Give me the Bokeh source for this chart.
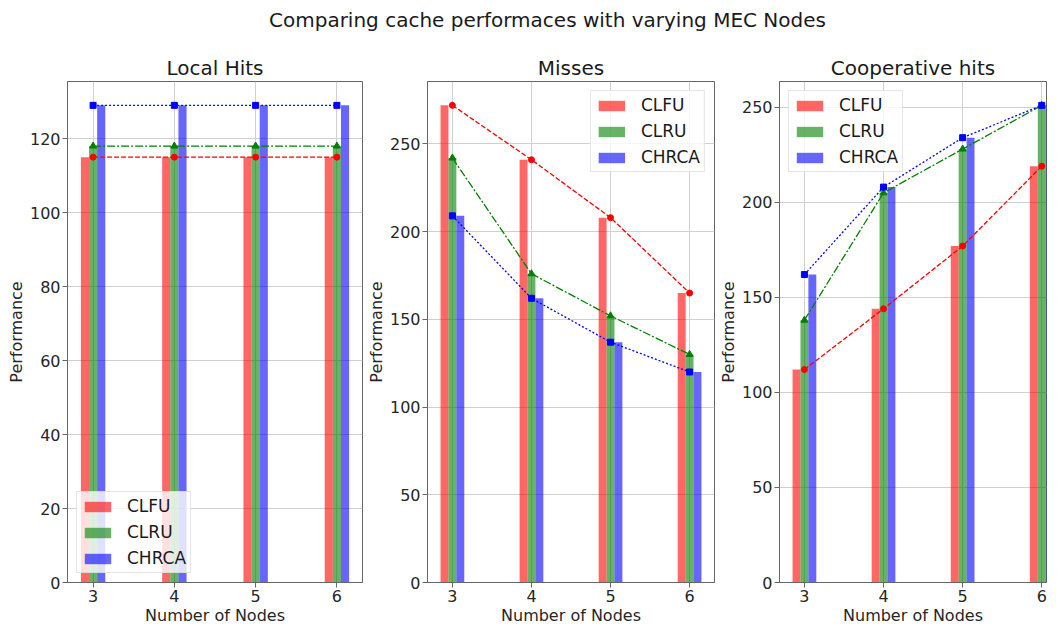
from bokeh.plotting import figure
from bokeh.models import ColumnDataSource, Range1d, SingleIntervalTicker, FixedTicker, Legend, LegendItem, Div
from bokeh.layouts import row, column
from bokeh.transform import dodge
from bokeh.embed import file_html
from bokeh.resources import INLINE

nodes = [3, 4, 5, 6]
series_names = ["CLFU", "CLRU", "CHRCA"]

local_clfu = [115, 115, 115, 115]
local_clru = [118, 118, 118, 118]
local_chrca = [129, 129, 129, 129]

miss_clfu = [272, 241, 208, 165]
miss_clru = [242, 176, 152, 130]
miss_chrca = [209, 162, 137, 120]

coop_clfu = [112, 144, 177, 219]
coop_clru = [138, 205, 228, 251]
coop_chrca = [162, 208, 234, 251]

suptitle = "Comparing cache performaces with varying MEC Nodes"
panel_titles = ["Local Hits", "Misses", "Cooperative hits"]
x_label = "Number of Nodes"
y_label = "Performance"

FONT = "DejaVu Sans"
colors = ["red", "green", "blue"]
offsets = [-0.1, 0.0, 0.1]
dashes = ["5 2", "8 2 2 2", "2 2"]
markers = ["circle", "triangle", "square"]
msizes = [6, 7, 6]

FIG_H = 587
TOP = 41


def make_panel(title, vals, width, left, right, x_end, y_interval, legend_loc):
    src = ColumnDataSource(dict(x=nodes, a=vals[0], b=vals[1], c=vals[2]))
    keys = ["a", "b", "c"]
    ymax = 1.05 * max(max(v) for v in vals)
    p = figure(width=width, height=FIG_H, output_backend="svg", toolbar_location=None,
               x_range=Range1d(2.685, x_end), y_range=Range1d(0, ymax),
               min_border_left=left, min_border_right=right, min_border_top=TOP,
               min_border_bottom=10)
    p.title.text = title
    p.title.text_font = FONT
    p.title.text_font_size = "20px"
    p.title.text_font_style = "normal"
    p.title.align = "center"
    p.title.text_color = "#1a1a1a"
    p.title.standoff = 3

    bar_items = []
    for k, col, off, name in zip(keys, colors, offsets, series_names):
        r = p.vbar(x=dodge("x", off), top=k, width=0.1, bottom=0, source=src,
                   fill_color=col, fill_alpha=0.6, line_color=None)
        bar_items.append(LegendItem(label=name, renderers=[r]))
    for k, col, dsh, mk, ms in zip(keys, colors, dashes, markers, msizes):
        p.line(x="x", y=k, source=src, line_color=col, line_width=1.3, line_dash=dsh)
        p.scatter(x="x", y=k, source=src, marker=mk, size=ms, fill_color=col,
                  line_color=col)

    leg = Legend(items=bar_items, location=legend_loc, margin=9, padding=4,
                 spacing=6, glyph_width=33, glyph_height=13, label_height=18,
                 label_standoff=13, label_text_font=FONT, label_text_font_size="17px",
                 label_text_color="#1a1a1a", border_line_color="#cccccc",
                 background_fill_alpha=0.8)
    p.add_layout(leg, "center")

    p.xaxis.ticker = FixedTicker(ticks=nodes)
    p.yaxis.ticker = SingleIntervalTicker(interval=y_interval, num_minor_ticks=0)
    for ax in [p.xaxis[0], p.yaxis[0]]:
        ax.major_label_text_font = FONT
        ax.major_label_text_font_size = "16px"
        ax.major_label_text_color = "#262626"
        ax.axis_label_text_font = FONT
        ax.axis_label_text_font_size = "16px"
        ax.axis_label_text_font_style = "normal"
        ax.axis_label_text_color = "#262626"
        ax.axis_line_color = "#666666"
        ax.major_tick_line_color = "#666666"
        ax.major_tick_out = 5
        ax.major_tick_in = 0
        ax.minor_tick_line_color = None
        ax.major_label_standoff = 2
        ax.axis_label_standoff = 1
    p.xaxis.axis_label = x_label
    p.yaxis.axis_label = y_label
    p.outline_line_color = "#666666"
    p.outline_line_alpha = 1
    p.xgrid.grid_line_color = "#d0d0d0"
    p.ygrid.grid_line_color = "#d0d0d0"
    return p


p1 = make_panel(panel_titles[0], [local_clfu, local_clru, local_chrca], 363, 67, 1, 6.315, 20, "bottom_left")
p2 = make_panel(panel_titles[1], [miss_clfu, miss_clru, miss_chrca], 352, 58, 1, 6.315, 50, "top_right")
p3 = make_panel(panel_titles[2], [coop_clfu, coop_clru, coop_chrca], 333, 58, 2, 6.06, 50, "top_left")

head = Div(text='<div style="padding-left:264px;padding-top:1px;white-space:nowrap;">' + suptitle + '</div>',
           width=1048, height=30,
           styles={"font-family": FONT, "font-size": "20px", "color": "#1a1a1a"})

layout = column(head, row(p1, p2, p3, spacing=0), spacing=0)

open("out.html", "w").write(file_html(layout, INLINE))
